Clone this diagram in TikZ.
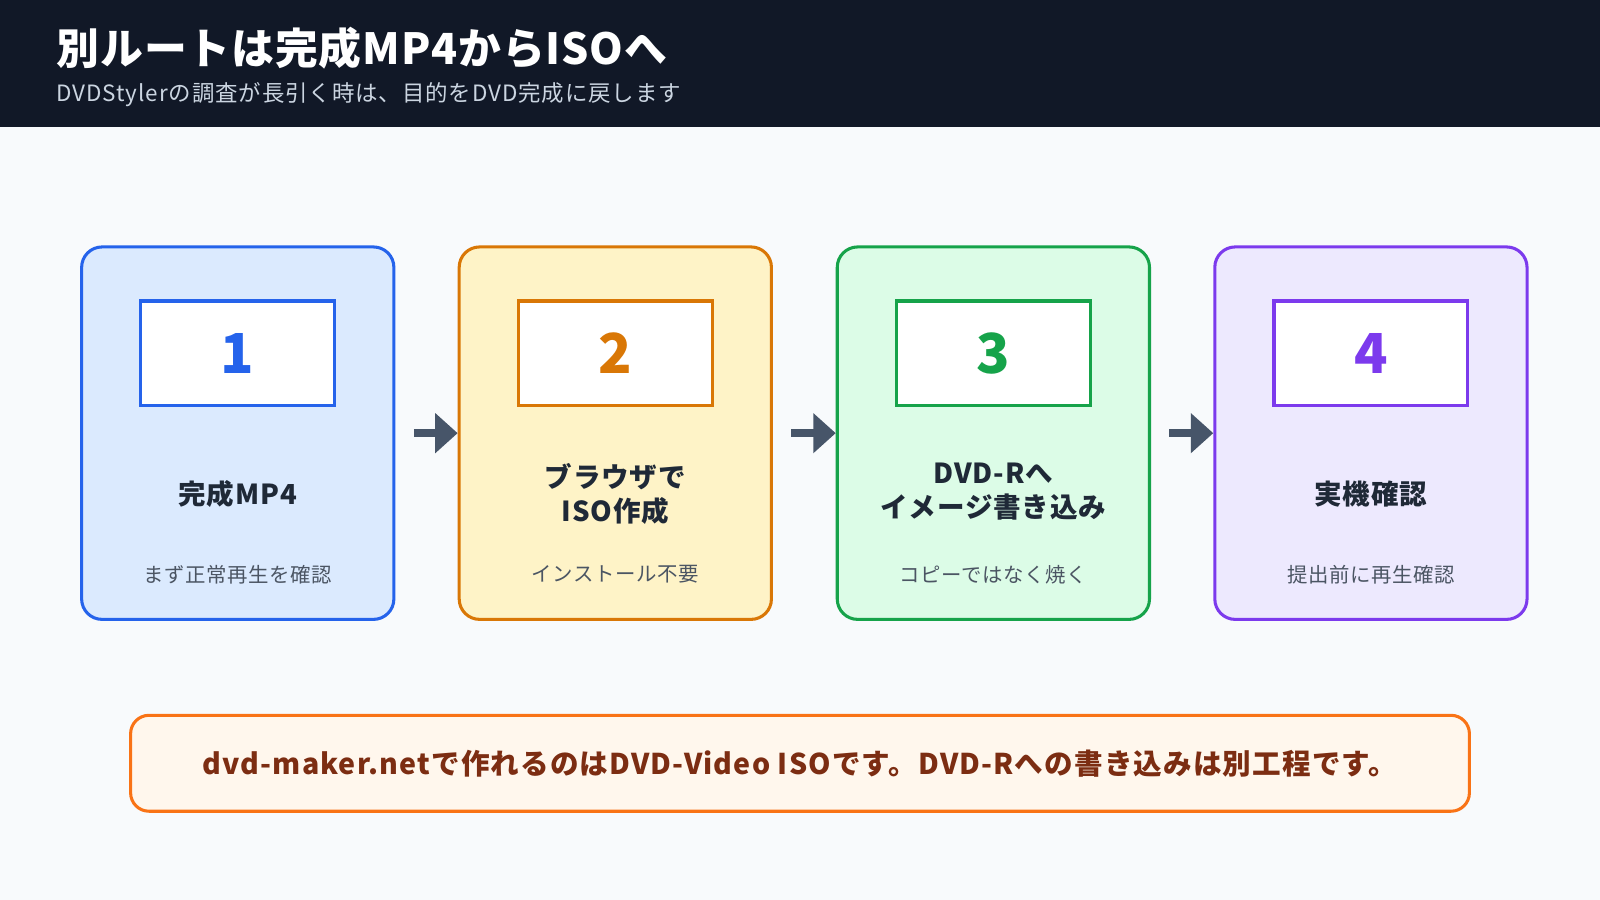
\documentclass[tikz,border=0pt]{standalone}
\usepackage{fontspec}
\setmainfont{Noto Sans CJK JP}
\usetikzlibrary{arrows.meta,positioning}
\definecolor{hdr}{HTML}{111827}
\definecolor{bg}{HTML}{F8FAFC}
\definecolor{subgray}{HTML}{CBD5E1}
\definecolor{txt}{HTML}{1F2937}
\definecolor{smalltxt}{HTML}{4B5563}
\definecolor{arr}{HTML}{475569}
\definecolor{cA}{HTML}{2563EB}\definecolor{fA}{HTML}{DBEAFE}
\definecolor{cB}{HTML}{D97706}\definecolor{fB}{HTML}{FEF3C7}
\definecolor{cC}{HTML}{16A34A}\definecolor{fC}{HTML}{DCFCE7}
\definecolor{cD}{HTML}{7C3AED}\definecolor{fD}{HTML}{EDE9FE}
\definecolor{nbord}{HTML}{F97316}\definecolor{nfill}{HTML}{FFF7ED}\definecolor{ntxt}{HTML}{7C2D12}
\tikzset{
  step/.style={draw=#1, line width=3pt, rounded corners=20pt, minimum width=306pt, minimum height=365pt},
  numbox/.style={draw=#1, fill=white, line width=3pt, minimum width=190pt, minimum height=102pt,
    text=#1, font=\fontsize{54}{60}\selectfont\bfseries},
  steptitle/.style={align=center, text=txt, font=\fontsize{27}{33}\selectfont\bfseries\addfontfeatures{LetterSpace=3}},
  stepnote/.style={text=smalltxt, font=\fontsize{20}{24}\selectfont\addfontfeatures{LetterSpace=3}},
  flow/.style={-{Triangle[length=22pt,width=38pt]}, arr, line width=8pt, shorten <=18pt}
}
\begin{document}
\begin{tikzpicture}[x=1pt,y=-1pt]
  \useasboundingbox (0,0) rectangle (1568,882);
  \fill[bg] (0,0) rectangle (1568,882);
  \fill[hdr] (0,0) rectangle (1568,124);
  \node[anchor=west, text=white, font=\fontsize{42}{48}\selectfont\bfseries\addfontfeatures{LetterSpace=2}] (title) at (52,47) {別ルートは完成MP4からISOへ};
  \node[anchor=west, text=subgray, font=\fontsize{22}{28}\selectfont\addfontfeatures{LetterSpace=4}] (subtitle) at (52,93) {DVDStylerの調査が長引く時は、目的をDVD完成に戻します};
  % steps
  \node[step=cA, fill=fA] (s1) at (233,424.5) {};
  \node[step=cB, fill=fB] (s2) at (603,424.5) {};
  \node[step=cC, fill=fC] (s3) at (973.5,424.5) {};
  \node[step=cD, fill=fD] (s4) at (1343.5,424.5) {};
  \node[numbox=cA] (n1) at (233,346) {1};
  \node[numbox=cB] (n2) at (603,346) {2};
  \node[numbox=cC] (n3) at (973.5,346) {3};
  \node[numbox=cD] (n4) at (1343.5,346) {4};
  \node[steptitle] (t1) at (233,484) {完成MP4};
  \node[steptitle] (t2) at (603,484) {ブラウザで\\ISO作成};
  \node[steptitle] (t3) at (973.5,482) {DVD-Rへ\\イメージ書き込み};
  \node[steptitle] (t4) at (1343.5,484) {実機確認};
  \node[stepnote] (m1) at (233,563) {まず正常再生を確認};
  \node[stepnote] (m2) at (603,563) {インストール不要};
  \node[stepnote] (m3) at (973.5,563) {コピーではなく焼く};
  \node[stepnote] (m4) at (1343.5,563) {提出前に再生確認};
  \draw[flow] (s1.east) -- (s2.west);
  \draw[flow] (s2.east) -- (s3.west);
  \draw[flow] (s3.east) -- (s4.west);
  % note
  \node[draw=nbord, fill=nfill, line width=3pt, rounded corners=18pt, minimum width=1312pt, minimum height=94pt,
    text=ntxt, font=\fontsize{28}{32}\selectfont\bfseries\addfontfeatures{LetterSpace=4}] (note) at (784,748)
    {dvd-maker.netで作れるのはDVD-Video ISOです。DVD-Rへの書き込みは別工程です。};
\end{tikzpicture}
\end{document}
